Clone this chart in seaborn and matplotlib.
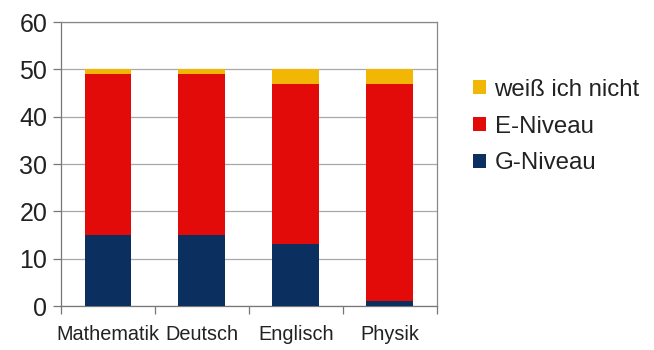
import matplotlib
matplotlib.use("Agg")
import matplotlib.pyplot as plt
from matplotlib.patches import Patch
from matplotlib.ticker import FixedLocator
import seaborn as sns
import pandas as pd
import numpy as np

# Survey: course level per subject (number of answers)
subjects = ["Mathematik", "Deutsch", "Englisch", "Physik"]
g_niveau = [15, 15, 13, 1]
e_niveau = [34, 34, 34, 46]
weiss_nicht = [1, 1, 3, 3]
y_ticks = [0, 10, 20, 30, 40, 50, 60]

col_g = "#0B2F5F"
col_e = "#E30A0A"
col_w = "#F2B705"

sns.set_theme(style="white")
plt.rcParams["font.family"] = ["Liberation Sans", "DejaVu Sans"]

df = pd.DataFrame({"Fach": subjects, "G": g_niveau, "E": e_niveau, "W": weiss_nicht})
df["GE"] = df["G"] + df["E"]
df["GEW"] = df["GE"] + df["W"]

fig = plt.figure(figsize=(6.54, 3.5), dpi=100)
ax = fig.add_axes([0.0933, 0.1257, 0.5747, 0.8113])

# stacked bars: draw cumulative totals from the top layer down
sns.barplot(data=df, x="Fach", y="GEW", color=col_w, width=0.5, saturation=1, ax=ax, zorder=3)
sns.barplot(data=df, x="Fach", y="GE", color=col_e, width=0.5, saturation=1, ax=ax, zorder=3)
sns.barplot(data=df, x="Fach", y="G", color=col_g, width=0.5, saturation=1, ax=ax, zorder=3)
for p in ax.patches:
    p.set_linewidth(0)

ax.set_xlim(-0.5, len(subjects) - 0.5)
ax.set_ylim(0, 60)
ax.set_yticks(y_ticks)
ax.set_yticklabels([str(t) for t in y_ticks], fontsize=18, color="#222222")

# category labels centred under bars, tick marks between categories
ax.xaxis.set_major_locator(FixedLocator(np.arange(-0.5, len(subjects), 1.0)))
ax.xaxis.set_minor_locator(FixedLocator(np.arange(len(subjects))))
ax.set_xticklabels([""] * (len(subjects) + 1))
ax.set_xticklabels(subjects, minor=True, fontsize=14.3, color="#222222")
ax.tick_params(axis="x", which="major", length=6, width=0.9, color="#777777", direction="out", bottom=True)
ax.tick_params(axis="x", which="minor", length=0, pad=14)
ax.tick_params(axis="y", length=6, width=0.9, color="#777777", direction="out", left=True, pad=4)

ax.grid(axis="y", color="#A8A8A8", linewidth=0.9, zorder=0)
ax.set_axisbelow(True)
for side in ["top", "right", "left", "bottom"]:
    ax.spines[side].set_visible(True)
    ax.spines[side].set_color("#888888")
    ax.spines[side].set_linewidth(0.9)
ax.spines["left"].set_color("#777777")
ax.spines["bottom"].set_color("#777777")
ax.set_xlabel("")
ax.set_ylabel("")

handles = [Patch(facecolor=col_w, edgecolor="none", label="weiß ich nicht"),
           Patch(facecolor=col_e, edgecolor="none", label="E-Niveau"),
           Patch(facecolor=col_g, edgecolor="none", label="G-Niveau")]
fig.legend(handles=handles, loc="upper left", bbox_to_anchor=(0.69, 0.837),
           frameon=False, fontsize=17.3, handlelength=0.55, handleheight=0.55,
           handletextpad=0.35, labelspacing=0.62, labelcolor="#222222")

fig.savefig("out.png", dpi=100, facecolor="white")
